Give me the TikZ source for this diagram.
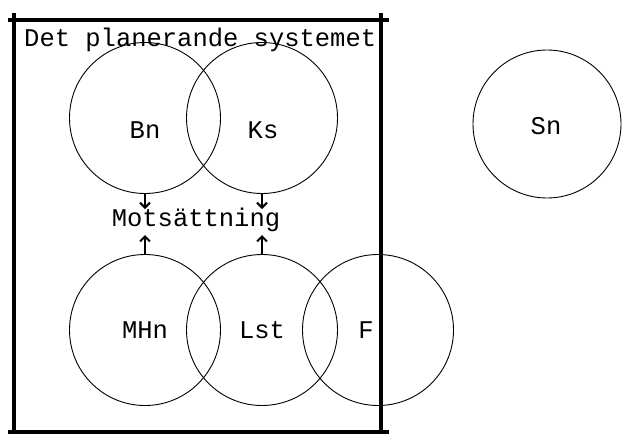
\documentclass[tikz,border=0pt]{standalone}
\usepackage{fontspec}
\setmonofont{Liberation Mono}
\usetikzlibrary{arrows.meta}
\begin{document}
\begin{tikzpicture}[x=1pt,y=-1pt,
  ring/.style={draw,circle,line width=0.9pt,minimum size=151pt,inner sep=0pt},
  lbl/.style={font=\ttfamily\fontsize{25.5}{26}\selectfont,inner sep=1pt},
  frame/.style={line width=3.5pt},
  arr/.style={line width=1.6pt,-{Straight Barb[length=5pt,width=10pt,line width=2pt]}}]
\useasboundingbox (0,0) rectangle (623,434);
\fill[white] (0,0) rectangle (623,434);
% frame
\draw[frame] (8,20) -- (389,20);
\draw[frame] (8,432) -- (389,432);
\draw[frame] (14,13) -- (14,434);
\draw[frame] (381,13) -- (381,434);
\node[lbl,anchor=west] (title) at (23,40) {Det planerande systemet};
% circles
\node[ring] (bn) at (145,118) {};
\node[ring] (ks) at (262,118) {};
\node[ring] (mhn) at (145,330) {};
\node[ring] (lst) at (262,330) {};
\node[ring] (f) at (378,330) {};
\node[ring,minimum size=148pt] (sn) at (547,124) {};
% labels
\node[lbl] (tbn) at (145,130) {Bn};
\node[lbl] (tks) at (263,130) {Ks};
\node[lbl] (tmhn) at (145,330) {MHn};
\node[lbl] (tlst) at (262,330) {Lst};
\node[lbl] (tf) at (366,330) {F};
\node[lbl] (tsn) at (546,126) {Sn};
\node[lbl,anchor=base] (mots) at (196,226) {Motsättning};
\coordinate (uptip) at (0,209);
\coordinate (lowtip) at (0,235);
% arrows
\draw[arr] (bn.south) -- (bn.south |- uptip);
\draw[arr] (ks.south) -- (ks.south |- uptip);
\draw[arr] (mhn.north) -- (mhn.north |- lowtip);
\draw[arr] (lst.north) -- (lst.north |- lowtip);
\end{tikzpicture}
\end{document}
